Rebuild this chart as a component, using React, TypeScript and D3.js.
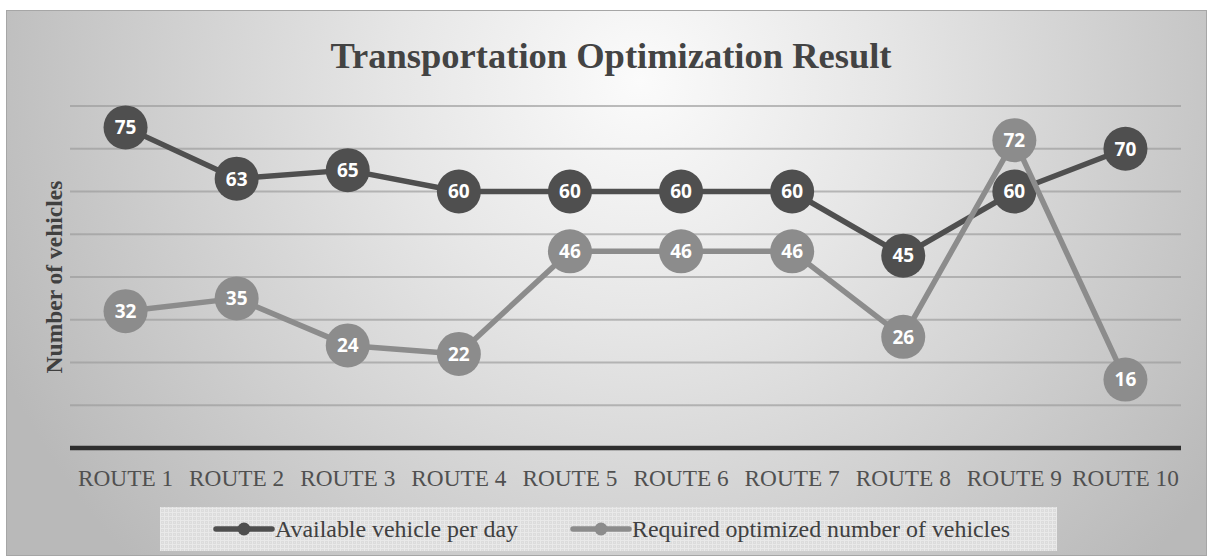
import React from "react";
import * as d3 from "d3";

const routes = ["ROUTE 1", "ROUTE 2", "ROUTE 3", "ROUTE 4", "ROUTE 5", "ROUTE 6", "ROUTE 7", "ROUTE 8", "ROUTE 9", "ROUTE 10"];
const available = [75, 63, 65, 60, 60, 60, 60, 45, 60, 70];
const required = [32, 35, 24, 22, 46, 46, 46, 26, 72, 16];
const gridValues = [10, 20, 30, 40, 50, 60, 70, 80];
const seriesNames = ["Available vehicle per day", "Required optimized number of vehicles"];

const W = 1211;
const H = 560;
const DARK = "#4f4f4f";
const LIGHT = "#8c8c8c";
const SERIF = "'Liberation Serif', 'Times New Roman', serif";
const SANS = "'Open Sans', 'Noto Sans', sans-serif";

export default function App() {
  const x = d3.scaleBand<string>().domain(routes).range([70, 1181]).paddingInner(0).paddingOuter(0);
  const cx = (r: string) => (x(r) as number) + x.bandwidth() / 2;
  const y = d3.scaleLinear().domain([0, 80]).range([448, 106]);

  const line = d3
    .line<number>()
    .x((_, i) => cx(routes[i]))
    .y((d) => y(d));

  const series = [
    { name: seriesNames[0], values: available, color: DARK },
    { name: seriesNames[1], values: required, color: LIGHT },
  ];

  const legendItems = [
    { name: seriesNames[0], color: DARK, x0: 216 },
    { name: seriesNames[1], color: LIGHT, x0: 573 },
  ];

  return (
    <div style={{ position: "absolute", left: 0, top: 0 }}>
      <svg width={W} height={H} viewBox={`0 0 ${W} ${H}`}>
        <defs>
          <radialGradient id="bg" gradientUnits="userSpaceOnUse" cx={640} cy={80} r={700} fx={640} fy={80}>
            <stop offset="0" stopColor="#fbfbfb" />
            <stop offset="0.35" stopColor="#e6e6e6" />
            <stop offset="1" stopColor="#b9b9b9" />
          </radialGradient>
          <pattern id="hatch" width="4" height="4" patternUnits="userSpaceOnUse">
            <rect width="4" height="4" fill="#dcdcdc" />
            <rect width="4" height="1" fill="#e9e9e9" />
            <rect width="1" height="4" fill="#e9e9e9" />
            <rect x="2" y="2" width="1" height="1" fill="#e4e4e4" />
          </pattern>
        </defs>
        <rect x={0} y={0} width={W} height={H} fill="#ffffff" />
        <rect x={6.5} y={10.5} width={1200} height={545} fill="url(#bg)" stroke="#a6a6a6" strokeWidth={1} />

        <text x={611} y={68} textAnchor="middle" fontFamily={SERIF} fontWeight="bold" fontSize={36.5} fill="#434343">
          Transportation Optimization Result
        </text>

        <text
          transform={`translate(62, 277) rotate(-90)`}
          textAnchor="middle"
          fontFamily={SERIF}
          fontWeight="bold"
          fontSize={23.5}
          fill="#404040"
        >
          Number of vehicles
        </text>

        {gridValues.map((v) => (
          <line key={v} x1={70} x2={1181} y1={y(v)} y2={y(v)} stroke="#9a9a9a" strokeOpacity={0.65} strokeWidth={1.8} />
        ))}
        <line x1={70} x2={1181} y1={y(0)} y2={y(0)} stroke="#2e2e2e" strokeWidth={4.5} />

        {routes.map((r) => (
          <text key={r} x={cx(r)} y={486} textAnchor="middle" fontFamily={SERIF} fontSize={23.3} fill="#505050">
            {r}
          </text>
        ))}

        {series.map((s) => (
          <g key={s.name}>
            <path d={line(s.values) || ""} fill="none" stroke={s.color} strokeWidth={5.5} strokeLinejoin="round" />
            {s.values.map((v, i) => (
              <circle key={i} cx={cx(routes[i])} cy={y(v)} r={22} fill={s.color} />
            ))}
          </g>
        ))}
        {series.map((s) => (
          <g key={s.name + "-lbl"}>
            {s.values.map((v, i) => (
              <text
                key={i}
                x={cx(routes[i])}
                y={y(v)}
                dy="0.36em"
                textAnchor="middle"
                fontFamily={SANS}
                fontWeight="bold"
                fontSize={19}
                fill="#ffffff"
              >
                {v}
              </text>
            ))}
          </g>
        ))}

        <rect x={160} y={507} width={897} height={44} fill="url(#hatch)" />
        {legendItems.map((it) => (
          <g key={it.name}>
            <line x1={it.x0} x2={it.x0 + 56} y1={529} y2={529} stroke={it.color} strokeWidth={5.5} strokeLinecap="round" />
            <circle cx={it.x0 + 28} cy={529} r={6.5} fill={it.color} />
            <text x={it.x0 + 59} y={537} fontFamily={SERIF} fontSize={23.9} fill="#404040">
              {it.name}
            </text>
          </g>
        ))}
      </svg>
    </div>
  );
}
